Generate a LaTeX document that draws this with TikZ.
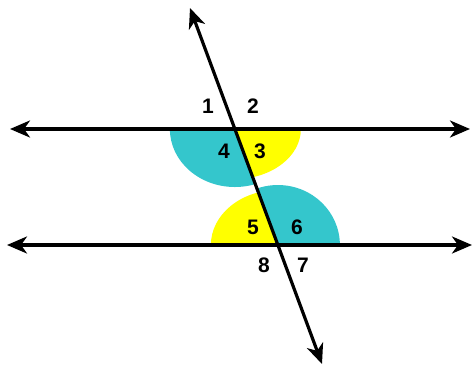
\documentclass[tikz,border=0pt]{standalone}
\usepackage{fontspec}
\setmainfont{Liberation Sans}
\usetikzlibrary{arrows.meta}
\definecolor{angcyan}{RGB}{52,198,204}
\definecolor{angyellow}{RGB}{255,255,0}
\begin{document}
\begin{tikzpicture}[x=1pt,y=1pt,
  ln/.style={line width=3.2pt,{Stealth[length=20pt,width=17pt,inset=6pt]}-{Stealth[length=20pt,width=17pt,inset=6pt]}},
  lbl/.style={font=\fontsize{21}{24}\selectfont\bfseries,inner sep=0pt}]
\useasboundingbox (0,0) rectangle (475,-370);
\coordinate (L1a) at (10,-129);
\coordinate (L1b) at (470,-129);
\coordinate (L2a) at (7,-245);
\coordinate (L2b) at (472,-245);
\coordinate (Ta) at (190,-8);
\coordinate (Tb) at (322,-364);
\coordinate (P) at (intersection of L1a--L1b and Ta--Tb);
\coordinate (Q) at (intersection of L2a--L2b and Ta--Tb);
% angle 4
\begin{scope}
\clip (P) -- (Tb) -- ([xshift=-300pt]Tb) -- ([xshift=-300pt]P) -- cycle;
\fill[angcyan] (P) ellipse [x radius=65, y radius=58];
\end{scope}
% angle 3
\begin{scope}
\clip (P) -- (Tb) -- ([xshift=300pt]Tb) -- ([xshift=300pt]P) -- cycle;
\fill[angyellow] (P) ellipse [x radius=66, y radius=50];
\end{scope}
% angle 5
\begin{scope}
\clip (Q) -- (Ta) -- ([xshift=-300pt]Ta) -- ([xshift=-300pt]Q) -- cycle;
\fill[angyellow] (Q) ellipse [x radius=67, y radius=55];
\end{scope}
% angle 6
\begin{scope}
\clip (Q) -- (Ta) -- ([xshift=300pt]Ta) -- ([xshift=300pt]Q) -- cycle;
\fill[angcyan] (Q) ellipse [x radius=62, y radius=60];
\end{scope}
\draw[ln] (L1a) -- (L1b);
\draw[ln] (L2a) -- (L2b);
\draw[ln] (Ta) -- (Tb);
\node[lbl] (n1) at (208,-106) {1};
\node[lbl] (n2) at (253,-106) {2};
\node[lbl] (n4) at (224,-151) {4};
\node[lbl] (n3) at (260,-151) {3};
\node[lbl] (n5) at (253,-227) {5};
\node[lbl] (n6) at (297,-227) {6};
\node[lbl] (n8) at (264,-265) {8};
\node[lbl] (n7) at (303,-265) {7};
\end{tikzpicture}
\end{document}
